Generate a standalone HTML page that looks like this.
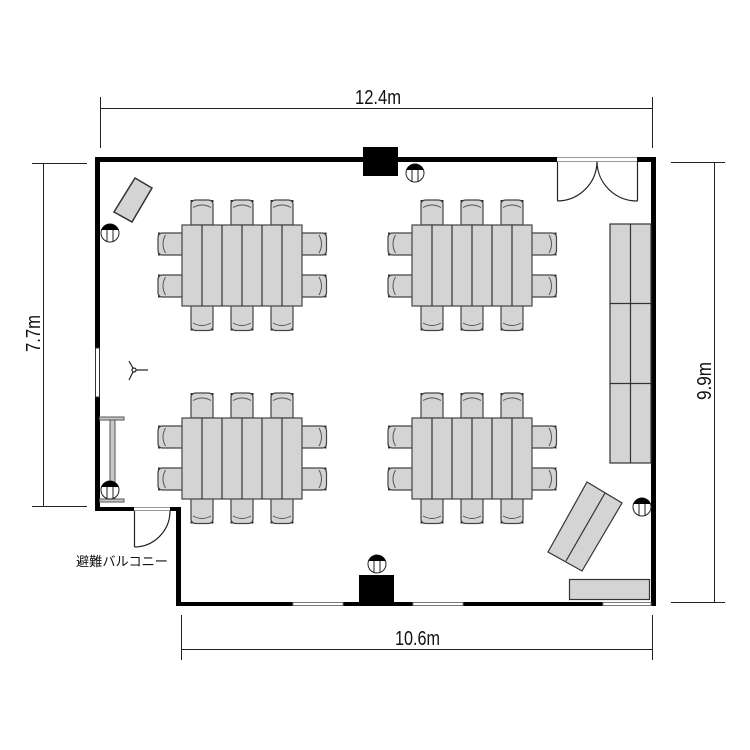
<!DOCTYPE html>
<html><head><meta charset="utf-8"><style>
html,body{margin:0;padding:0;background:#fff;}
svg{display:block;}
</style></head><body>
<svg width="750" height="750" viewBox="0 0 750 750" xmlns="http://www.w3.org/2000/svg">
<defs>
<g id="chair">
<path d="M-11,12.5 L-11,-8 Q-11,-12.5 -6,-12.5 L6,-12.5 Q11,-12.5 11,-8 L11,12.5 Z" fill="#d4d4d4" stroke="#444" stroke-width="1.2"/>
<path d="M-9,-5 Q0,-10 9,-5" fill="none" stroke="#555" stroke-width="1"/>
<rect x="-11.5" y="-12.5" width="2" height="2" fill="#333"/>
<rect x="9.5" y="-12.5" width="2" height="2" fill="#333"/>
</g>
<g id="grp">
<use href="#chair" x="202" y="212.5"/>
<use href="#chair" x="242" y="212.5"/>
<use href="#chair" x="282" y="212.5"/>
<use href="#chair" transform="translate(202,318) rotate(180)"/>
<use href="#chair" transform="translate(242,318) rotate(180)"/>
<use href="#chair" transform="translate(282,318) rotate(180)"/>
<use href="#chair" transform="translate(170.5,244) rotate(-90)"/>
<use href="#chair" transform="translate(170.5,286) rotate(-90)"/>
<use href="#chair" transform="translate(314,244) rotate(90)"/>
<use href="#chair" transform="translate(314,286) rotate(90)"/>
<rect x="182" y="225" width="120" height="81" fill="#d4d4d4" stroke="#444" stroke-width="1.2"/>
<g stroke="#333" stroke-width="1.2">
<line x1="202" y1="225" x2="202" y2="306"/>
<line x1="222" y1="225" x2="222" y2="306"/>
<line x1="242" y1="225" x2="242" y2="306"/>
<line x1="262" y1="225" x2="262" y2="306"/>
<line x1="282" y1="225" x2="282" y2="306"/>
</g>
</g>
<g id="outlet">
<circle cx="0" cy="0" r="9" fill="#fff" stroke="#222" stroke-width="1"/>
<path d="M-8.5,-3 A9,9 0 0 1 8.5,-3 Z" fill="#000"/>
<line x1="-3" y1="-3" x2="-3" y2="8.4" stroke="#222" stroke-width="1"/>
<line x1="3" y1="-3" x2="3" y2="8.4" stroke="#222" stroke-width="1"/>
</g>
</defs>

<!-- dimension lines -->
<g stroke="#222" stroke-width="1" fill="none">
<line x1="100" y1="108.5" x2="652" y2="108.5"/>
<line x1="100.5" y1="97" x2="100.5" y2="148"/>
<line x1="652.5" y1="97" x2="652.5" y2="148"/>
<line x1="181" y1="649.5" x2="652" y2="649.5"/>
<line x1="181.5" y1="615" x2="181.5" y2="660"/>
<line x1="652.5" y1="615" x2="652.5" y2="660"/>
<line x1="43.5" y1="163" x2="43.5" y2="507"/>
<line x1="32" y1="163.5" x2="87" y2="163.5"/>
<line x1="32" y1="506.5" x2="87" y2="506.5"/>
<line x1="714.5" y1="162" x2="714.5" y2="602"/>
<line x1="671" y1="162.5" x2="725" y2="162.5"/>
<line x1="671" y1="602.5" x2="725" y2="602.5"/>
</g>
<g font-family="Liberation Sans, sans-serif" font-size="20" fill="#111">
<text x="355" y="104" textLength="46" lengthAdjust="spacingAndGlyphs">12.4m</text>
<text x="395" y="645" textLength="45" lengthAdjust="spacingAndGlyphs">10.6m</text>
<text transform="translate(40,352) rotate(-90)" x="0" y="0" textLength="37" lengthAdjust="spacingAndGlyphs">7.7m</text>
<text transform="translate(711,400) rotate(-90)" x="0" y="0" textLength="38" lengthAdjust="spacingAndGlyphs">9.9m</text>
</g>
<text x="76" y="566" font-family="Liberation Sans, Noto Sans CJK JP, sans-serif" font-size="13" fill="#111" textLength="92" lengthAdjust="spacingAndGlyphs">避難バルコニー</text>

<!-- walls -->
<g fill="#000">
<rect x="95" y="157" width="462" height="5"/>
<rect x="637" y="157" width="19" height="5"/>
<rect x="651" y="157" width="5" height="449"/>
<rect x="95" y="157" width="5" height="191"/>
<rect x="95" y="397" width="5" height="114"/>
<rect x="95" y="507" width="39" height="4"/>
<rect x="170" y="507" width="11" height="4"/>
<rect x="176" y="507" width="5" height="99"/>
<rect x="176" y="602" width="480" height="4"/>
<rect x="363" y="147" width="35" height="29"/>
<rect x="359" y="575" width="35" height="29"/>
</g>
<!-- left window -->
<rect x="95.5" y="348" width="4" height="49" fill="#fff" stroke="#333" stroke-width="1"/>
<!-- bottom windows -->
<g fill="#fff" stroke="#777" stroke-width="1">
<rect x="293" y="602.5" width="50" height="3"/>
<rect x="413" y="602.5" width="50" height="3"/>
<rect x="603" y="602.5" width="48" height="3"/>
</g>
<!-- doors -->
<g stroke="#999" stroke-width="1">
<line x1="557" y1="157.5" x2="637" y2="157.5"/>
<line x1="557" y1="161.5" x2="637" y2="161.5"/>
<line x1="134" y1="507.5" x2="170" y2="507.5"/>
<line x1="134" y1="510.5" x2="170" y2="510.5"/>
</g>
<g stroke="#222" stroke-width="1.2" fill="none">
<line x1="557.5" y1="162" x2="557.5" y2="201"/>
<line x1="637.5" y1="162" x2="637.5" y2="201"/>
<path d="M557.5,201 A40,40 0 0 0 597,162"/>
<path d="M637.5,201 A40,40 0 0 1 597,162"/>
<line x1="134.5" y1="511" x2="134.5" y2="547"/>
<path d="M134.5,547 A36,36 0 0 0 170,511"/>
</g>

<!-- table groups -->
<use href="#grp"/>
<use href="#grp" x="230" y="0"/>
<use href="#grp" x="0" y="193"/>
<use href="#grp" x="230" y="193"/>

<!-- right storage -->
<g fill="#d4d4d4" stroke="#333" stroke-width="1.2">
<rect x="610" y="224" width="41" height="239"/>
<line x1="630.5" y1="224" x2="630.5" y2="463"/>
<line x1="610" y1="303.5" x2="651" y2="303.5"/>
<line x1="610" y1="383.5" x2="651" y2="383.5"/>
<polygon points="135,178 152,188 132,222 114,212" stroke-width="1.5"/>
<polygon points="587,482 622,503 582,571 548,552"/>
<line x1="605" y1="493" x2="566" y2="561"/>
<rect x="569.5" y="579.5" width="80" height="20"/>
</g>

<!-- shelf left -->
<g fill="#c8c8c8" stroke="#555" stroke-width="1">
<rect x="110" y="420" width="5" height="79"/>
<rect x="99.5" y="417" width="24.5" height="3"/>
<rect x="99.5" y="499" width="24.5" height="3"/>
</g>

<!-- fan icon -->
<g stroke="#222" stroke-width="1.2" fill="none">
<line x1="134" y1="370" x2="129" y2="361"/>
<line x1="134" y1="370" x2="129" y2="380"/>
<line x1="134" y1="370" x2="148" y2="370"/>
<circle cx="134" cy="370" r="2" fill="#fff"/>
</g>

<!-- outlets -->
<use href="#outlet" x="110" y="233"/>
<use href="#outlet" x="415" y="173"/>
<use href="#outlet" x="110" y="490"/>
<use href="#outlet" x="642" y="507"/>
<use href="#outlet" x="377" y="564"/>
</svg>
</body></html>
